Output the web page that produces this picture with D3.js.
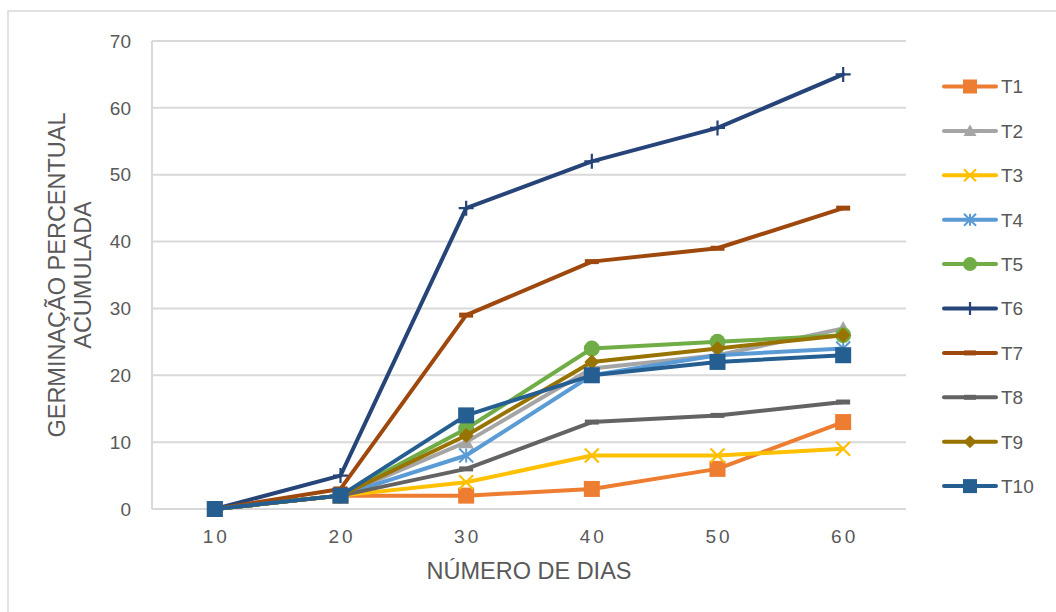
<!DOCTYPE html>
<html><head><meta charset="utf-8">
<script src="https://cdn.jsdelivr.net/npm/d3@7"></script>
<style>body{margin:0;background:#fff}svg{display:block}</style>
</head><body>
<svg id="c" width="1056" height="612"></svg>
<script>
const days = ["10","20","30","40","50","60"];
const seriesNames = ["T1","T2","T3","T4","T5","T6","T7","T8","T9","T10"];
const T1 = [0,2,2,3,6,13];
const T2 = [0,2,10,21,23,27];
const T3 = [0,2,4,8,8,9];
const T4 = [0,2,8,20,23,24];
const T5 = [0,2,12,24,25,26];
const T6 = [0,5,45,52,57,65];
const T7 = [0,3,29,37,39,45];
const T8 = [0,2,6,13,14,16];
const T9 = [0,2,11,22,24,26];
const T10 = [0,2,14,20,22,23];
const yTicks = [0,10,20,30,40,50,60,70];
const colors = ["#ED7D31","#A5A5A5","#FFC000","#5B9BD5","#70AD47","#264478","#9E480E","#636363","#997300","#255E91"];
const markers = ["square","triangle","x","star","circle","plus","dash","dash","diamond","square"];
const values = [T1,T2,T3,T4,T5,T6,T7,T8,T9,T10];

const svg = d3.select("#c");
svg.append("rect").attr("x",8).attr("y",11).attr("width",1100).attr("height",700)
  .attr("fill","#fff").attr("stroke","#D9D9D9").attr("stroke-width",1.5);

const L=152,R=906,T=41,B=509;
const x = d3.scalePoint().domain(days).range([L,R]).padding(0.5);
const y = d3.scaleLinear().domain([0,70]).range([B,T]);

// gridlines
svg.append("g").selectAll("line").data(yTicks).join("line")
  .attr("x1",L).attr("x2",R).attr("y1",d=>y(d)).attr("y2",d=>y(d))
  .attr("stroke","#D9D9D9").attr("stroke-width",2);
svg.append("line").attr("x1",L).attr("x2",L).attr("y1",T).attr("y2",B)
  .attr("stroke","#D9D9D9").attr("stroke-width",2);

// y tick labels
svg.append("g").selectAll("text").data(yTicks).join("text")
  .attr("x",131).attr("y",d=>y(d)).attr("dy","0.35em").attr("text-anchor","end")
  .attr("font-family","Liberation Sans, Arial, sans-serif").attr("font-size",19)
  .attr("fill","#595959").text(d=>d);
// x tick labels
svg.append("g").selectAll("text").data(days).join("text")
  .attr("x",d=>x(d)+1.5).attr("y",543).attr("text-anchor","middle")
  .attr("font-family","Liberation Sans, Arial, sans-serif").attr("font-size",19)
  .attr("letter-spacing","3px")
  .attr("fill","#595959").text(d=>d);

// axis titles
svg.append("text").attr("x",(L+R)/2).attr("y",579).attr("text-anchor","middle")
  .attr("font-family","Liberation Sans, Arial, sans-serif").attr("font-size",23.5)
  .attr("fill","#595959").text("NÚMERO DE DIAS");
const yt = svg.append("text").attr("transform",`translate(65,${(T+B)/2}) rotate(-90)`)
  .attr("text-anchor","middle")
  .attr("font-family","Liberation Sans, Arial, sans-serif").attr("font-size",23.5)
  .attr("fill","#595959");
yt.append("tspan").attr("x",0).attr("y",0).text("GERMINAÇÃO PERCENTUAL");
yt.append("tspan").attr("x",0).attr("y",26).text("ACUMULADA");

function drawMarker(g, type, cx, cy, color, s){
  const h=s/2;
  if(type==="square"){
    g.append("rect").attr("x",cx-h).attr("y",cy-h).attr("width",s).attr("height",s).attr("fill",color);
  } else if(type==="triangle"){
    g.append("path").attr("d",`M${cx},${cy-h}L${cx+h},${cy+h*0.8}L${cx-h},${cy+h*0.8}Z`).attr("fill",color);
  } else if(type==="circle"){
    g.append("circle").attr("cx",cx).attr("cy",cy).attr("r",h).attr("fill",color);
  } else if(type==="diamond"){
    g.append("path").attr("d",`M${cx},${cy-h}L${cx+h},${cy}L${cx},${cy+h}L${cx-h},${cy}Z`).attr("fill",color);
  } else if(type==="x"){
    g.append("path").attr("d",`M${cx-h},${cy-h}L${cx+h},${cy+h}M${cx+h},${cy-h}L${cx-h},${cy+h}`)
      .attr("stroke",color).attr("stroke-width",2.2).attr("fill","none");
  } else if(type==="star"){
    g.append("path").attr("d",`M${cx-h},${cy-h}L${cx+h},${cy+h}M${cx+h},${cy-h}L${cx-h},${cy+h}M${cx},${cy-h}L${cx},${cy+h}`)
      .attr("stroke",color).attr("stroke-width",2).attr("fill","none");
  } else if(type==="plus"){
    g.append("path").attr("d",`M${cx-h},${cy}L${cx+h},${cy}M${cx},${cy-h}L${cx},${cy+h}`)
      .attr("stroke",color).attr("stroke-width",2.2).attr("fill","none");
  } else if(type==="dash"){
    g.append("rect").attr("x",cx-h).attr("y",cy-2.5).attr("width",s).attr("height",5).attr("fill",color);
  }
}
const msize = {square:16,triangle:15,x:14,star:14,circle:16,plus:15,dash:14,diamond:15};

const line = d3.line().x((d,i)=>x(days[i])).y(d=>y(d));
values.forEach((vals,k)=>{
  const g = svg.append("g");
  g.append("path").datum(vals).attr("d",line).attr("fill","none")
    .attr("stroke",colors[k]).attr("stroke-width",4).attr("stroke-linejoin","round").attr("stroke-linecap","round");
  vals.forEach((v,i)=>drawMarker(g,markers[k],x(days[i]),y(v),colors[k],msize[markers[k]]));
});

// legend
const lg = svg.append("g");
seriesNames.forEach((n,k)=>{
  const cy = 86.5 + k*44.4;
  lg.append("line").attr("x1",944).attr("x2",996).attr("y1",cy).attr("y2",cy)
    .attr("stroke",colors[k]).attr("stroke-width",4).attr("stroke-linecap","round");
  drawMarker(lg,markers[k],970,cy,colors[k],msize[markers[k]]-2);
  lg.append("text").attr("x",1001).attr("y",cy).attr("dy","0.36em")
    .attr("font-family","Liberation Sans, Arial, sans-serif").attr("font-size",19)
    .attr("fill","#595959").text(n);
});
</script>
</body></html>
